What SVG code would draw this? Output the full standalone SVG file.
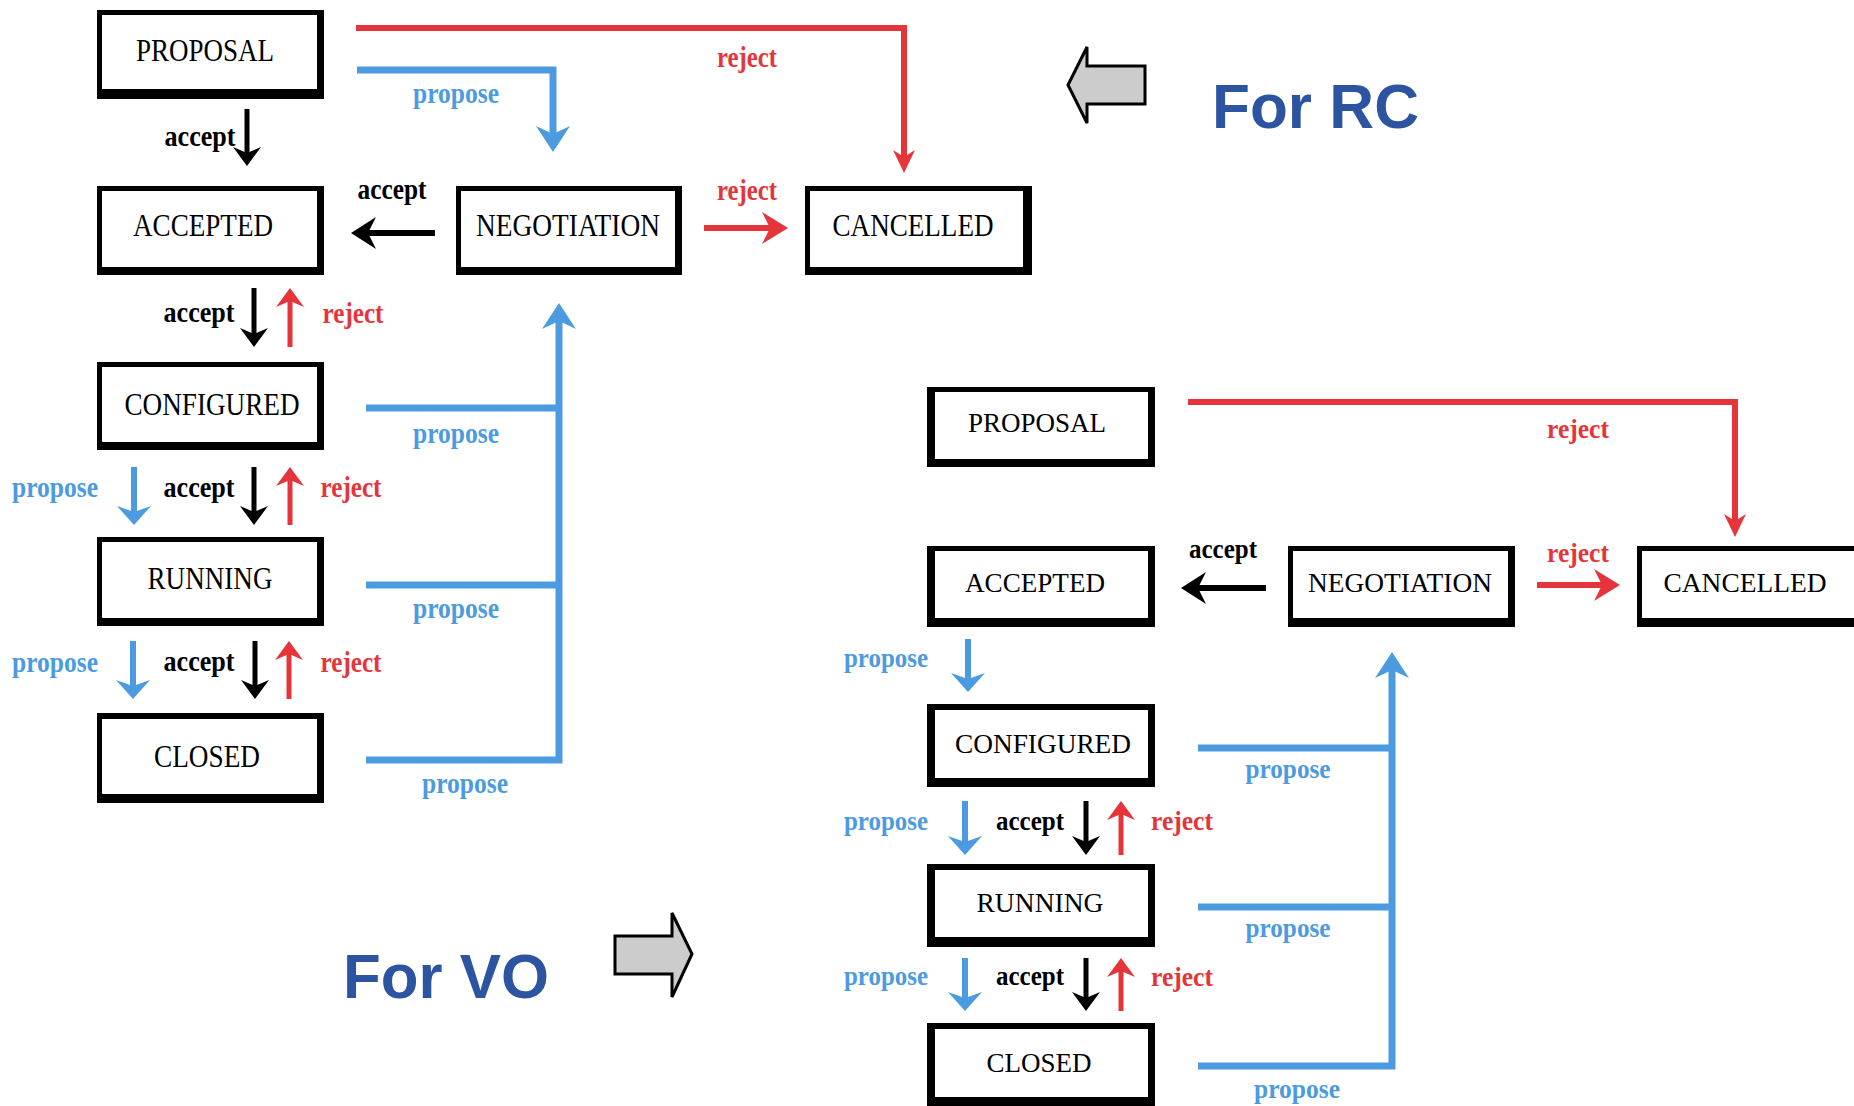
<svg xmlns="http://www.w3.org/2000/svg" width="1854" height="1106" viewBox="0 0 1854 1106">
<style>
.frame{fill:#000}
.inner{fill:#fff}
.nl{font-family:"Liberation Serif","Times New Roman",serif;font-size:31px;fill:#000;text-anchor:middle}
.nr{font-family:"Liberation Serif","Times New Roman",serif;font-size:27px;fill:#000;text-anchor:middle}
.lb{font-family:"Liberation Serif","Times New Roman",serif;font-weight:bold;font-size:29px;text-anchor:middle}
.lbr{font-family:"Liberation Serif","Times New Roman",serif;font-weight:bold;font-size:27px;text-anchor:middle}
.k{fill:#000}.b{fill:#4C9BE0}.r{fill:#E6353A}
.ck{fill:none;stroke:#000;stroke-width:5}
.ckh{fill:none;stroke:#000;stroke-width:6}
.cb{fill:none;stroke:#4C9BE0;stroke-width:6}
.cbb{fill:none;stroke:#4C9BE0;stroke-width:7}
.cr{fill:none;stroke:#E6353A;stroke-width:5}
.crl{fill:none;stroke:#E6353A;stroke-width:6}
.big{font-family:"Liberation Sans",Arial,sans-serif;font-weight:bold;font-size:63px;fill:#2C54A0}
.garrow{fill:#CCCCCC;stroke:#000;stroke-width:3;stroke-linejoin:miter}
</style>
<defs>
<marker id="mk-k" markerUnits="userSpaceOnUse" viewBox="0 -14 19 28" markerWidth="19" markerHeight="28" refX="6" refY="0" orient="auto" overflow="visible"><path d="M0,-14 L19,0 L0,14 L6,0 Z" fill="#000"/></marker>
<marker id="mk-kh" markerUnits="userSpaceOnUse" viewBox="0 -16 25 32" markerWidth="25" markerHeight="32" refX="8" refY="0" orient="auto" overflow="visible"><path d="M0,-16 L25,0 L0,16 L8,0 Z" fill="#000"/></marker>
<marker id="mk-b" markerUnits="userSpaceOnUse" viewBox="0 -17 19 34" markerWidth="19" markerHeight="34" refX="6" refY="0" orient="auto" overflow="visible"><path d="M0,-17 L19,0 L0,17 L6,0 Z" fill="#4C9BE0"/></marker>
<marker id="mk-bl" markerUnits="userSpaceOnUse" viewBox="0 -17 26 34" markerWidth="26" markerHeight="34" refX="8" refY="0" orient="auto" overflow="visible"><path d="M0,-17 L26,0 L0,17 L8,0 Z" fill="#4C9BE0"/></marker>
<marker id="mk-r" markerUnits="userSpaceOnUse" viewBox="0 -14 19 28" markerWidth="19" markerHeight="28" refX="6" refY="0" orient="auto" overflow="visible"><path d="M0,-14 L19,0 L0,14 L6,0 Z" fill="#E6353A"/></marker>
<marker id="mk-rh" markerUnits="userSpaceOnUse" viewBox="0 -16 26 32" markerWidth="26" markerHeight="32" refX="8" refY="0" orient="auto" overflow="visible"><path d="M0,-16 L26,0 L0,16 L8,0 Z" fill="#E6353A"/></marker>
<marker id="mk-rl" markerUnits="userSpaceOnUse" viewBox="0 -11 23 22" markerWidth="23" markerHeight="22" refX="7" refY="0" orient="auto" overflow="visible"><path d="M0,-11 L23,0 L0,11 L7,0 Z" fill="#E6353A"/></marker>
</defs>
<rect width="1854" height="1106" fill="#fff"/>

<!-- LEFT (RC) DIAGRAM NODES -->
<g id="rc-proposal"><rect class="frame" x="97" y="10" width="227" height="89"/><rect class="inner" x="102" y="15" width="215" height="74"/><text class="nl" x="205" y="61" textLength="138" lengthAdjust="spacingAndGlyphs">PROPOSAL</text></g>
<g id="rc-accepted"><rect class="frame" x="97" y="186" width="227" height="89"/><rect class="inner" x="102" y="191" width="215" height="76"/><text class="nl" x="203" y="236" textLength="140" lengthAdjust="spacingAndGlyphs">ACCEPTED</text></g>
<g id="rc-negotiation"><rect class="frame" x="456" y="186" width="226" height="89"/><rect class="inner" x="461" y="191" width="214" height="76"/><text class="nl" x="568" y="236" textLength="184" lengthAdjust="spacingAndGlyphs">NEGOTIATION</text></g>
<g id="rc-cancelled"><rect class="frame" x="805" y="186" width="227" height="89"/><rect class="inner" x="810" y="191" width="213" height="76"/><text class="nl" x="913" y="236" textLength="161" lengthAdjust="spacingAndGlyphs">CANCELLED</text></g>
<g id="rc-configured"><rect class="frame" x="97" y="362" width="227" height="88"/><rect class="inner" x="102" y="367" width="215" height="75"/><text class="nl" x="212" y="415" textLength="175" lengthAdjust="spacingAndGlyphs">CONFIGURED</text></g>
<g id="rc-running"><rect class="frame" x="97" y="537" width="227" height="89"/><rect class="inner" x="102" y="542" width="215" height="76"/><text class="nl" x="210" y="589" textLength="125" lengthAdjust="spacingAndGlyphs">RUNNING</text></g>
<g id="rc-closed"><rect class="frame" x="97" y="713" width="227" height="90"/><rect class="inner" x="102" y="719" width="215" height="75"/><text class="nl" x="207" y="767" textLength="106" lengthAdjust="spacingAndGlyphs">CLOSED</text></g>

<!-- RIGHT (VO) DIAGRAM NODES -->
<g id="vo-proposal"><rect class="frame" x="927" y="387" width="228" height="80"/><rect class="inner" x="935" y="392" width="213" height="67"/><text class="nr" x="1037" y="432" textLength="138" lengthAdjust="spacingAndGlyphs">PROPOSAL</text></g>
<g id="vo-accepted"><rect class="frame" x="927" y="546" width="228" height="81"/><rect class="inner" x="935" y="551" width="213" height="67"/><text class="nr" x="1035" y="592" textLength="140" lengthAdjust="spacingAndGlyphs">ACCEPTED</text></g>
<g id="vo-negotiation"><rect class="frame" x="1288" y="546" width="227" height="81"/><rect class="inner" x="1293" y="551" width="215" height="67"/><text class="nr" x="1400" y="592" textLength="184" lengthAdjust="spacingAndGlyphs">NEGOTIATION</text></g>
<g id="vo-cancelled"><rect class="frame" x="1637" y="546" width="240" height="81"/><rect class="inner" x="1642" y="551" width="240" height="67"/><text class="nr" x="1745" y="592" textLength="163" lengthAdjust="spacingAndGlyphs">CANCELLED</text></g>
<g id="vo-configured"><rect class="frame" x="927" y="704" width="228" height="83"/><rect class="inner" x="935" y="710" width="213" height="68"/><text class="nr" x="1043" y="753" textLength="176" lengthAdjust="spacingAndGlyphs">CONFIGURED</text></g>
<g id="vo-running"><rect class="frame" x="927" y="864" width="228" height="83"/><rect class="inner" x="935" y="870" width="213" height="67"/><text class="nr" x="1040" y="912" textLength="127" lengthAdjust="spacingAndGlyphs">RUNNING</text></g>
<g id="vo-closed"><rect class="frame" x="927" y="1023" width="228" height="90"/><rect class="inner" x="935" y="1029" width="213" height="68"/><text class="nr" x="1039" y="1072" textLength="105" lengthAdjust="spacingAndGlyphs">CLOSED</text></g>

<!-- CONNECTORS -->
<g id="connectors">
<!-- RC -->
<path class="crl" d="M356,28 H904 V157" marker-end="url(#mk-rl)"/>
<path class="cbb" d="M357,70 H553 V134" marker-end="url(#mk-bl)"/>
<path class="ck" d="M247,109 V153" marker-end="url(#mk-k)"/>
<path class="ckh" d="M435,233 H368" marker-end="url(#mk-kh)"/>
<path class="ckh" d="M704,228 H770" stroke="#E6353A" marker-end="url(#mk-rh)" style="stroke:#E6353A"/>
<path class="ck" d="M254,288 V334" marker-end="url(#mk-k)"/>
<path class="cr" d="M290,347 V301" marker-end="url(#mk-r)"/>
<path class="cb" d="M134,467 V512" marker-end="url(#mk-b)"/>
<path class="ck" d="M254,467 V512" marker-end="url(#mk-k)"/>
<path class="cr" d="M290,525 V480" marker-end="url(#mk-r)"/>
<path class="cb" d="M133,641 V686" marker-end="url(#mk-b)"/>
<path class="ck" d="M255,641 V686" marker-end="url(#mk-k)"/>
<path class="cr" d="M289,699 V654" marker-end="url(#mk-r)"/>
<path class="cbb" d="M366,408 H559"/>
<path class="cbb" d="M366,585 H559"/>
<path class="cbb" d="M366,760 H559 V321" marker-end="url(#mk-bl)"/>
<!-- VO -->
<path class="crl" d="M1188,402 H1735 V521" marker-end="url(#mk-rl)"/>
<path class="ckh" d="M1266,588 H1198" marker-end="url(#mk-kh)"/>
<path class="ckh" d="M1537,585 H1602" marker-end="url(#mk-rh)" style="stroke:#E6353A"/>
<path class="cb" d="M968,639 V679" marker-end="url(#mk-b)"/>
<path class="cb" d="M965,801 V842" marker-end="url(#mk-b)"/>
<path class="ck" d="M1086,801 V842" marker-end="url(#mk-k)"/>
<path class="cr" d="M1121,855 V814" marker-end="url(#mk-r)"/>
<path class="cb" d="M965,958 V998" marker-end="url(#mk-b)"/>
<path class="ck" d="M1086,958 V998" marker-end="url(#mk-k)"/>
<path class="cr" d="M1121,1011 V971" marker-end="url(#mk-r)"/>
<path class="cbb" d="M1198,748 H1392"/>
<path class="cbb" d="M1198,907 H1392"/>
<path class="cbb" d="M1198,1066 H1392 V670" marker-end="url(#mk-bl)"/>

<!-- labels RC -->
<text class="lb r" x="747" y="67" textLength="60" lengthAdjust="spacingAndGlyphs">reject</text>
<text class="lb b" x="456" y="103" textLength="86" lengthAdjust="spacingAndGlyphs">propose</text>
<text class="lb k" x="200" y="146" textLength="71" lengthAdjust="spacingAndGlyphs">accept</text>
<text class="lb k" x="392" y="199" textLength="69" lengthAdjust="spacingAndGlyphs">accept</text>
<text class="lb r" x="747" y="200" textLength="60" lengthAdjust="spacingAndGlyphs">reject</text>
<text class="lb k" x="199" y="322" textLength="71" lengthAdjust="spacingAndGlyphs">accept</text>
<text class="lb r" x="353" y="323" textLength="61" lengthAdjust="spacingAndGlyphs">reject</text>
<text class="lb b" x="456" y="443" textLength="86" lengthAdjust="spacingAndGlyphs">propose</text>
<text class="lb b" x="55" y="497" textLength="86" lengthAdjust="spacingAndGlyphs">propose</text>
<text class="lb k" x="199" y="497" textLength="71" lengthAdjust="spacingAndGlyphs">accept</text>
<text class="lb r" x="351" y="497" textLength="61" lengthAdjust="spacingAndGlyphs">reject</text>
<text class="lb b" x="456" y="618" textLength="86" lengthAdjust="spacingAndGlyphs">propose</text>
<text class="lb b" x="55" y="672" textLength="86" lengthAdjust="spacingAndGlyphs">propose</text>
<text class="lb k" x="199" y="671" textLength="71" lengthAdjust="spacingAndGlyphs">accept</text>
<text class="lb r" x="351" y="672" textLength="61" lengthAdjust="spacingAndGlyphs">reject</text>
<text class="lb b" x="465" y="793" textLength="86" lengthAdjust="spacingAndGlyphs">propose</text>
<!-- labels VO -->
<text class="lbr r" x="1578" y="438" textLength="62" lengthAdjust="spacingAndGlyphs">reject</text>
<text class="lbr k" x="1223" y="558" textLength="68" lengthAdjust="spacingAndGlyphs">accept</text>
<text class="lbr r" x="1578" y="562" textLength="62" lengthAdjust="spacingAndGlyphs">reject</text>
<text class="lbr b" x="886" y="667" textLength="84" lengthAdjust="spacingAndGlyphs">propose</text>
<text class="lbr b" x="1288" y="778" textLength="85" lengthAdjust="spacingAndGlyphs">propose</text>
<text class="lbr b" x="886" y="830" textLength="84" lengthAdjust="spacingAndGlyphs">propose</text>
<text class="lbr k" x="1030" y="830" textLength="68" lengthAdjust="spacingAndGlyphs">accept</text>
<text class="lbr r" x="1182" y="830" textLength="62" lengthAdjust="spacingAndGlyphs">reject</text>
<text class="lbr b" x="1288" y="937" textLength="85" lengthAdjust="spacingAndGlyphs">propose</text>
<text class="lbr b" x="886" y="985" textLength="84" lengthAdjust="spacingAndGlyphs">propose</text>
<text class="lbr k" x="1030" y="985" textLength="68" lengthAdjust="spacingAndGlyphs">accept</text>
<text class="lbr r" x="1182" y="986" textLength="62" lengthAdjust="spacingAndGlyphs">reject</text>
<text class="lbr b" x="1297" y="1098" textLength="86" lengthAdjust="spacingAndGlyphs">propose</text>
</g>

<!-- CAPTIONS -->
<g id="caption-rc">
<polygon class="garrow" points="1068,85 1087,47 1087,66 1145,66 1145,104 1087,104 1087,123"/>
<text class="big" x="1212" y="128" textLength="207" lengthAdjust="spacingAndGlyphs">For RC</text>
</g>
<g id="caption-vo">
<text class="big" x="343" y="998" textLength="206" lengthAdjust="spacingAndGlyphs">For VO</text>
<polygon class="garrow" points="615,936 672,936 672,913 692,954 672,997 672,974 615,974"/>
</g>
</svg>
